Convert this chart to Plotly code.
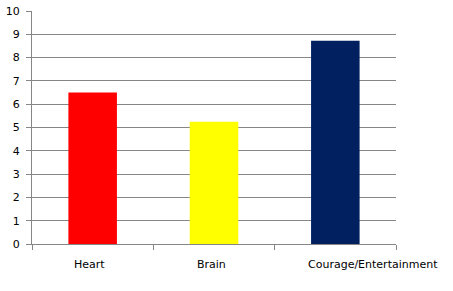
import plotly.graph_objects as go

categories = ["Heart", "Brain", "Courage/Entertainment"]
values = [6.5, 5.25, 8.72]
colors = ["#FF0000", "#FFFF00", "#002060"]
y_ticks = list(range(0, 11))
label_shifts = [-3, -3, 38]

fig = go.Figure(go.Bar(x=categories, y=values, marker=dict(color=colors, line=dict(width=0))))

for cat, dx in zip(categories, label_shifts):
    fig.add_annotation(
        x=cat, xref="x", y=0, yref="paper", yshift=-20, xshift=dx,
        text=cat, showarrow=False, xanchor="center", yanchor="middle",
        font=dict(family="DejaVu Sans", size=11, color="black"),
    )

fig.update_layout(
    width=453, height=291,
    margin=dict(l=32, r=57, t=11, b=47),
    paper_bgcolor="white", plot_bgcolor="white",
    bargap=0.6,
    showlegend=False,
    font=dict(family="DejaVu Sans", size=11, color="black"),
)
fig.update_xaxes(
    range=[-0.5, len(categories) - 0.5], autorange=False,
    showline=True, linecolor="#868686", linewidth=1,
    ticks="outside", tickson="boundaries", ticklen=5, tickcolor="#868686",
    showgrid=False, showticklabels=False, automargin=False,
)
fig.update_yaxes(
    range=[0, 10], tickvals=y_ticks, showline=True, linecolor="#868686", linewidth=1,
    ticks="outside", ticklen=5, tickcolor="#868686", ticklabelstandoff=4,
    showgrid=True, gridcolor="#868686", gridwidth=1, zeroline=False,
    tickfont=dict(size=11), automargin=False,
)
fig.write_html("out.html")
